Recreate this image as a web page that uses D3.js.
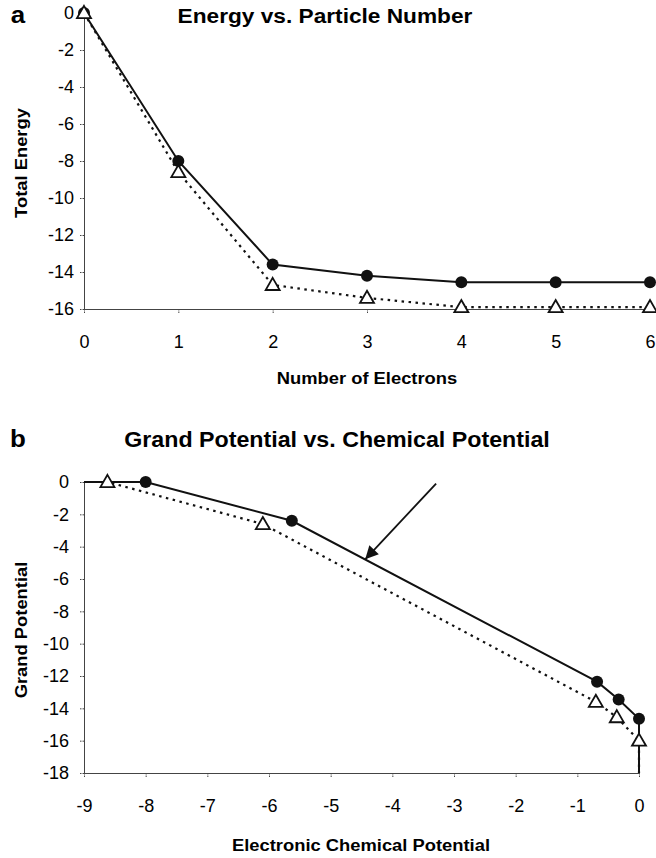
<!DOCTYPE html>
<html>
<head>
<meta charset="utf-8">
<script src="https://cdn.jsdelivr.net/npm/d3@7"></script>
<style>
  body { margin:0; background:#fff; }
  text { font-family: "Liberation Sans", Arial, Helvetica, sans-serif; fill:#000; }
  .axis path, .axis line { stroke:#444; stroke-width:1; }
  .axis text { font-size:18px; }
</style>
</head>
<body>
<svg id="svg" width="656" height="858"></svg>
<script>
// panel a : energy vs. particle number
var electrons      = [0, 1, 2, 3, 4, 5, 6];
var energyCircle   = [0, -8.0, -13.6, -14.2, -14.55, -14.55, -14.55];
var energyTriangle = [0, -8.6, -14.7, -15.4, -15.9, -15.9, -15.9];
var aTicksX = [0, 1, 2, 3, 4, 5, 6];
var aTicksY = [0, -2, -4, -6, -8, -10, -12, -14, -16];

// panel b : grand potential vs. chemical potential
var muCircle    = [-8.0, -5.63, -0.68, -0.33, 0];
var omegaCircle = [0, -2.4, -12.35, -13.45, -14.65];
var muTriangle    = [-8.62, -6.1, -0.7, -0.36, 0];
var omegaTriangle = [0, -2.6, -13.6, -14.55, -16.0];
var bTicksX = [-9, -8, -7, -6, -5, -4, -3, -2, -1, 0];
var bTicksY = [0, -2, -4, -6, -8, -10, -12, -14, -16, -18];
var arrowFrom = [-3.29, -0.1];
var arrowTo   = [-4.44, -4.78];

var svg = d3.select("#svg");

var xA = d3.scaleLinear().domain([0, 6]).range([84, 650]);
var yA = d3.scaleLinear().domain([-16, 0]).range([309, 13]);
var xB = d3.scaleLinear().domain([-9, 0]).range([84, 639]);
var yB = d3.scaleLinear().domain([-18, 0]).range([773, 482]);

svg.append("defs").append("marker")
	.attr("id", "head")
	.attr("viewBox", "0 0 10 10")
	.attr("refX", 10).attr("refY", 5)
	.attr("markerWidth", 17).attr("markerHeight", 13)
	.attr("markerUnits", "userSpaceOnUse")
	.attr("orient", "auto")
	.append("path")
	.attr("d", "M0,0 L10,5 L0,10 Z")
	.style("fill", "#111");

// text helper, the scan's lettering is a little wider than Arial
function label(x, y, str, size, bold, anchor, rot) {
	svg.append("text")
		.attr("transform", "translate(" + x + "," + y + ")" + (rot ? " rotate(" + rot + ")" : "") + " scale(1.08,1)")
		.attr("text-anchor", anchor || "middle")
		.style("font-size", size + "px")
		.style("font-weight", bold ? "bold" : "normal")
		.text(str);
}

function drawAxes(x, y, ticksX, ticksY, padY) {
	var y0 = y.range()[0], x0 = x.range()[0];
	var gx = svg.append("g").attr("class", "axis")
		.attr("transform", "translate(0," + y0 + ")")
		.call(d3.axisBottom(x).tickValues(ticksX).tickSize(5).tickSizeOuter(0).tickPadding(21).tickFormat(d3.format("d")));
	var gy = svg.append("g").attr("class", "axis")
		.attr("transform", "translate(" + x0 + ",0)")
		.call(d3.axisLeft(y).tickValues(ticksY).tickSize(5).tickSizeOuter(0).tickPadding(padY).tickFormat(d3.format("d")));
	[gx, gy].forEach(function(g) {
		g.selectAll("text").text(function(d) { return String(d).replace("\u2212", "-"); });
		g.selectAll(".tick line").style("stroke-dasharray", "1.5,1");
	});
}

function drawSeries(pts, dashed) {
	svg.append("path")
		.attr("d", d3.line()(pts))
		.style("fill", "none")
		.style("stroke", "#111")
		.style("stroke-width", dashed ? 2.2 : 2)
		.style("stroke-dasharray", dashed ? "2.5,4.5" : null);
}

function drawCircles(x, y, xs, ys) {
	svg.append("g").selectAll("circle").data(xs).enter().append("circle")
		.attr("cx", function(d) { return x(d); })
		.attr("cy", function(d, i) { return y(ys[i]); })
		.attr("r", 6)
		.style("fill", "#111");
}

var tri = d3.symbol().type(d3.symbolTriangle).size(85);
function drawTriangles(x, y, xs, ys) {
	svg.append("g").selectAll("path").data(xs).enter().append("path")
		.attr("d", tri)
		.attr("transform", function(d, i) { return "translate(" + x(d) + "," + (y(ys[i]) + 1) + ")"; })
		.style("fill", "#fff")
		.style("stroke", "#111")
		.style("stroke-width", 1.8);
}

// ---- panel a
drawAxes(xA, yA, aTicksX, aTicksY, 5);
drawSeries(electrons.map(function(d, i) { return [xA(d), yA(energyTriangle[i])]; }), true);
drawSeries(electrons.map(function(d, i) { return [xA(d), yA(energyCircle[i])]; }), false);
drawCircles(xA, yA, electrons, energyCircle);
drawTriangles(xA, yA, electrons, energyTriangle);

label(18, 23, "a", 24, true);
label(325, 23, "Energy vs. Particle Number", 21, true);
label(367, 384, "Number of Electrons", 17, true);
label(27, 163, "Total Energy", 17, true, "middle", -90);

// ---- panel b
drawAxes(xB, yB, bTicksX, bTicksY, 10);
var xMin = xB.domain()[0], yMin = yB.domain()[0];
var triLine = [[xMin, 0]].concat(muTriangle.map(function(d, i) { return [d, omegaTriangle[i]]; }), [[0, yMin]]);
var cirLine = [[xMin, 0]].concat(muCircle.map(function(d, i) { return [d, omegaCircle[i]]; }), [[0, yMin]]);
drawSeries(triLine.map(function(p) { return [xB(p[0]), yB(p[1])]; }), true);
drawSeries(cirLine.map(function(p) { return [xB(p[0]), yB(p[1])]; }), false);
drawCircles(xB, yB, muCircle, omegaCircle);
drawTriangles(xB, yB, muTriangle, omegaTriangle);

svg.append("line")
	.attr("x1", xB(arrowFrom[0])).attr("y1", yB(arrowFrom[1]))
	.attr("x2", xB(arrowTo[0])).attr("y2", yB(arrowTo[1]))
	.style("stroke", "#111")
	.style("stroke-width", 1.8)
	.attr("marker-end", "url(#head)");

label(18, 447, "b", 24, true);
label(337, 447, "Grand Potential vs. Chemical Potential", 21.5, true);
label(361, 851, "Electronic Chemical Potential", 17, true);
label(27, 630, "Grand Potential", 17, true, "middle", -90);
</script>
</body>
</html>
